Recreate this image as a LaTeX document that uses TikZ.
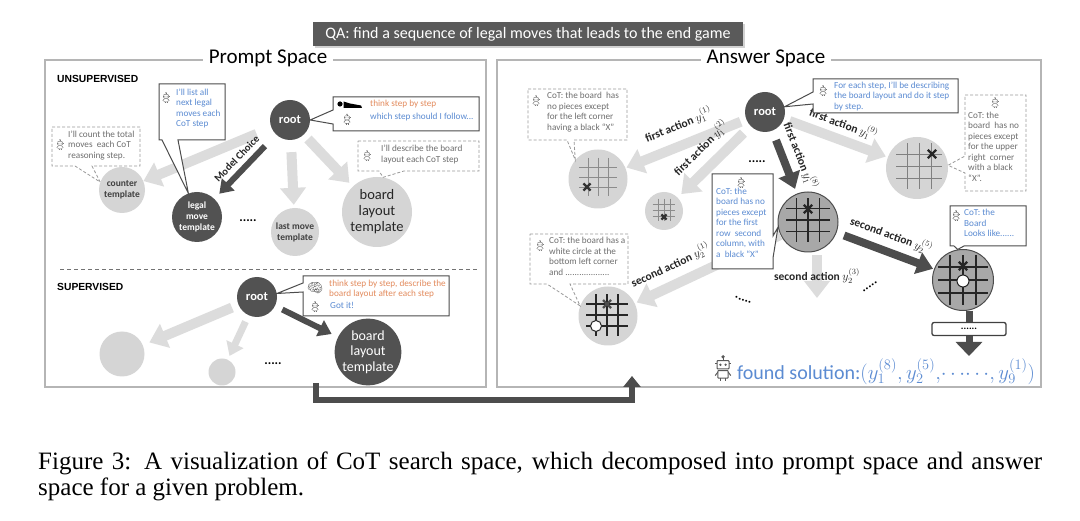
\documentclass[tikz,border=0pt]{standalone}
\usepackage{fontspec}
\setmainfont{Carlito}
\newfontfamily\capfont{Liberation Serif}
\newfontfamily\headfont{Liberation Sans}
\newfontfamily\emojifont{Noto Emoji}
\usetikzlibrary{arrows.meta,calc,shadows}
\definecolor{framegray}{HTML}{B5B5B5}
\definecolor{nodedark}{HTML}{525252}
\definecolor{nodelight}{HTML}{D5D5D5}
\definecolor{nodemid}{HTML}{A8A8A8}
\definecolor{arrlight}{HTML}{DCDCDC}
\definecolor{arrdark}{HTML}{4D4D4D}
\definecolor{bluetxt}{HTML}{5B8BD2}
\definecolor{orangetxt}{HTML}{E38B5D}
\definecolor{graytxt}{HTML}{6E6E6E}
\definecolor{bannergray}{HTML}{5A5A5A}
\tikzset{
 frame/.style={draw=framegray, line width=1.3pt},
 ttl/.style={fill=white, inner xsep=6pt, inner ysep=1pt, font=\fontsize{21}{23}\selectfont},
 dnode/.style={circle, fill=nodedark, text=white, align=center, inner sep=0pt, font=\fontsize{9.5}{11}\selectfont\bfseries},
 lnode/.style={circle, fill=nodelight, text=black!75, align=center, inner sep=0pt, font=\fontsize{9.5}{11}\selectfont\bfseries},
 bnode/.style={circle, fill=nodelight, inner sep=0pt},
 bmid/.style={circle, fill=nodemid, draw=black!70, line width=1pt, inner sep=0pt},
 rootfont/.style={font=\fontsize{12.5}{13}\selectfont\bfseries},
 larr/.style={draw=arrlight, line width=10pt, -{Triangle[width=25pt,length=17pt]}},
 darr/.style={draw=arrdark, line width=7pt, -{Triangle[width=19pt,length=14pt]}},
 conn/.style={draw=arrdark, line width=6pt, -{Triangle[width=17pt,length=11pt]}},
 solidcall/.style={draw=black!70, line width=1pt, fill=white, line join=miter},
 dashcall/.style={draw=black!40, dash pattern=on 3pt off 2pt, line width=0.8pt, fill=white},
 ctext/.style={anchor=north west, align=left, inner sep=0pt, font=\fontsize{9.2}{10.5}\selectfont},
 alabel/.style={font=\fontsize{11.5}{12}\selectfont\bfseries, text=black!85, sloped, inner sep=1pt},
 dotsl/.style={font=\fontsize{13}{13}\selectfont\bfseries, inner sep=0pt},
 gridpic/.pic={\draw (-1,-1.9)--(-1,1.9) (0,-1.9)--(0,1.9) (1,-1.9)--(1,1.9)
                     (-1.9,-1)--(1.9,-1) (-1.9,0)--(1.9,0) (-1.9,1)--(1.9,1);},
 xmark/.pic={\draw[line width=2.3pt] (-1,-1)--(1,1) (-1,1)--(1,-1);},
 robot/.pic={
   \draw (0,-4.2) -- (0,-5.6);
   \fill (0,-6.1) circle (0.9);
   \draw[rounded corners=0.8pt] (-3,-4.2) rectangle (3,0);
   \fill (-1.3,-2.1) circle (0.65) (1.3,-2.1) circle (0.65);
   \draw (-3,-2.6) -- (-3.8,-2.6) (3,-2.6) -- (3.8,-2.6);
   \draw[rounded corners=0.8pt] (-2.6,0.8) rectangle (2.6,4.6);
   \draw (-2.6,1.6) -- (-3.9,3.3) (2.6,1.6) -- (3.9,3.3);
   \draw (-1.2,4.6) -- (-1.2,6.2) (1.2,4.6) -- (1.2,6.2);
 },
}
\begin{document}
\begin{tikzpicture}[x=1pt,y=-1pt]
\useasboundingbox[fill=white] (0,0) rectangle (1080,521);

% ---------- frames and titles ----------
\draw[frame] (45,60) rectangle (486,387);
\draw[frame] (497,60) rectangle (1041,387);
\node[ttl] (tp) at (268,58) {Prompt Space};
\node[ttl] (ta) at (766,58) {Answer Space};
\node[fill=bannergray, text=white, minimum width=430pt, minimum height=24pt, inner sep=0pt,
      font=\fontsize{16}{18}\selectfont,
      drop shadow={shadow xshift=2pt, shadow yshift=-2pt, opacity=0.35}] (qa) at (528,34)
      {QA: find a sequence of legal moves that leads to the end game};

% ---------- prompt space : unsupervised ----------
\node[anchor=west, inner sep=0pt, font=\headfont\fontsize{10.3}{11}\selectfont\bfseries] (uns) at (57,79) {UNSUPERVISED};
\node[dnode, minimum size=40pt, rootfont] (proot) at (290,120) {root};
\node[lnode, minimum size=46pt] (pcounter) at (122,190) {counter\\template};
\node[dnode, minimum size=50pt] (plegal) at (197,217) {legal\\move\\template};
\node[lnode, minimum size=48pt] (plast) at (295,232) {last move\\template};
\node[lnode, minimum size=70pt, font=\fontsize{14.5}{16}\selectfont, text=black!85] (pboard) at (377,212) {board\\layout\\template};

\draw[larr, shorten <=16pt] (proot) -- (pcounter);
\draw[larr, shorten <=12pt, shorten >=3pt] (proot) -- (plast);
\draw[larr, shorten <=6pt, shorten >=5pt] (proot) -- (pboard);
\draw[darr, line width=6pt, -{Triangle[width=17pt,length=13pt]}, shorten <=16pt, shorten >=7pt] (proot) --
   node[alabel, above=4pt, font=\fontsize{10.5}{11}\selectfont\bfseries] (mc) {Model Choice} (plegal);
\node[dotsl] (pdots) at (248,221) {.....};

% callout of root
\draw[solidcall] (333,97) -- (479,97) -- (479,131) -- (333,131) -- (333,124) -- (proot.east) -- (333,110) -- cycle;
\fill[black] (340,104) circle (2.6);
\fill[black] (343.5,101.5) -- (350,103.5) -- (361,105.5) -- (362,108) -- (343.5,108) -- cycle;
\pic[black!55, scale=0.85] at (347,119.5) {robot};
\node[ctext, text=orangetxt] (t1) at (370,100) {think step by step};
\node[ctext, text=bluetxt] (t2) at (370,113) {which step should I follow...};

% callout of legal move
\draw[solidcall] (159,84) -- (225,84) -- (225,140) -- (178,140) -- (plegal.110) -- (162,140) -- (159,140) -- cycle;
\pic[black!55, scale=0.85] at (166,98) {robot};
\node[ctext, text=bluetxt] (t3) at (176,88.5) {I'll list all\\next legal\\moves each\\CoT step};

% callout of counter
\draw[dashcall] (52,127) -- (140,127) -- (140,166) -- (92,166) -- (pcounter.160) -- (75,166) -- (52,166) -- cycle;
\pic[black!50, scale=0.85] at (60,145) {robot};
\node[ctext, text=graytxt] (t4) at (68,130.5) {I'll count the total\\moves \ each CoT\\reasoning step.};

% callout of board layout
\draw[dashcall] (358,141) -- (479,141) -- (479,171) -- (404,171) -- (pboard.80) -- (379,171) -- (358,171) -- cycle;
\pic[black!50, scale=0.85] at (367,156) {robot};
\node[ctext, text=graytxt] (t5) at (381,145) {I'll describe the board\\layout each CoT step};

% ---------- prompt space : supervised ----------
\draw[black!55, line width=0.8pt, dash pattern=on 4pt off 3pt] (60,269) -- (478,269);
\node[anchor=west, inner sep=0pt, font=\headfont\fontsize{10.3}{11}\selectfont\bfseries] (sup) at (57,287) {SUPERVISED};
\node[dnode, minimum size=40pt, rootfont] (sroot) at (257,297) {root};
\node[circle, fill=nodelight, minimum size=45pt, inner sep=0pt] (sc1) at (122,354) {};
\node[circle, fill=nodelight, minimum size=27pt, inner sep=0pt] (sc2) at (222,372) {};
\node[dnode, minimum size=62pt, font=\fontsize{14}{15.5}\selectfont] (sboard) at (368,352) {board\\layout\\template};
\draw[larr, shorten <=7pt, shorten >=7pt] (sroot) -- (sc1);
\draw[larr, line width=7pt, -{Triangle[width=18pt,length=13pt]}, shorten <=7pt, shorten >=4pt] (sroot) -- (sc2);
\draw[darr, line width=6pt, -{Triangle[width=17pt,length=13pt]}, shorten <=8pt, shorten >=7pt] (sroot) -- (sboard);
\node[dotsl] (sdots) at (273,364) {.....};

\draw[solidcall] (303,276) -- (449,276) -- (449,316) -- (303,316) -- (303,292) -- (sroot.10) -- (303,283) -- cycle;
\node[font=\emojifont\fontsize{13}{13}\selectfont, text=black!60, inner sep=0pt] (brain) at (315,288) {🧠};
\pic[black!55, scale=0.85] at (315,307) {robot};
\node[ctext, text=orangetxt] (t6) at (329,279.5) {think step by step, describe the\\board layout after each step};
\node[ctext, text=bluetxt] (t7) at (330,302) {Got it!};

% connector between the spaces
\coordinate (lstart) at (316,383);
\coordinate (cornerR) at (632,400);
\coordinate (rend) at (632,376);
\draw[conn] (lstart) |- (cornerR) -- (rend);

% ---------- answer space ----------
\node[dnode, minimum size=40pt, rootfont] (aroot) at (765,112) {root};
\node[bnode, minimum size=59pt] (bA) at (598,179) {};
\node[bnode, minimum size=38pt] (bB) at (664,211) {};
\node[bnode, minimum size=62pt] (bC) at (917,168) {};
\node[bmid, minimum size=60pt] (bD) at (808,222) {};
\node[bmid, minimum size=61pt] (bE) at (963,280) {};
\node[bnode, minimum size=59pt] (bF) at (608,316) {};

\draw[larr, shorten <=6pt, shorten >=1pt] (aroot) -- node[alabel, above=7pt] (l1) {first action $y_1^{(1)}$} (bA);
\draw[larr, shorten <=10pt, shorten >=5pt] (aroot) -- node[alabel, above=6pt] (l2) {first action $y_1^{(2)}$} (bB);
\draw[larr, shorten <=6pt, shorten >=2pt] (aroot) -- node[alabel, above=3pt, pos=0.52] (l9) {first action $y_1^{(9)}$} (bC);
\draw[darr, line width=8pt, -{Triangle[width=22pt,length=16pt]}, shorten <=10pt, shorten >=5pt] (aroot) --
   node[alabel, above=5pt] (l8) {first action $y_1^{(8)}$} (bD);
\draw[darr, line width=8pt, -{Triangle[width=22pt,length=16pt]}, shorten <=8pt, shorten >=1pt] (bD) --
   node[alabel, above=5pt] (l25) {second action $y_2^{(5)}$} (bE);
\coordinate (d3e) at (817,298);
\draw[larr] ([xshift=9pt,yshift=-3pt]bD.south) -- (d3e);
\node[font=\fontsize{11.5}{12}\selectfont\bfseries, text=black!85] (l23) at (817,276) {second action $y_2^{(3)}$};
\draw[larr, shorten >=2pt] (bD) -- node[alabel, pos=0.7, above=6pt] (l21) {second action $y_2^{(1)}$} (bF);

\node[dotsl] (adots1) at (757,162) {.....};
\node[dotsl, rotate=-20] (adots2) at (743,300) {.....};
\node[dotsl, rotate=35] (adots3) at (870,287) {.....};

% boards
\pic[black!45, line width=0.9pt, scale=10] at (598,177) {gridpic};
\pic[black!80, scale=3.6] at (587,187) {xmark};
\pic[black!45, line width=0.8pt, scale=6] at (664,210) {gridpic};
\pic[black!80, scale=2.6] at (664,217) {xmark};
\pic[black!50, line width=0.9pt, scale=12] at (919,166) {gridpic};
\pic[black!85, scale=4.2] at (932,154) {xmark};
\pic[black!85, line width=1.2pt, scale=11.5] at (808,220) {gridpic};
\pic[black!85, scale=4.2] at (808,209) {xmark};
\pic[black!85, line width=1.2pt, scale=13] at (963,280) {gridpic};
\pic[black!85, scale=4.2] at (963,266) {xmark};
\node[circle, draw=black!85, line width=1pt, fill=white, minimum size=12pt, inner sep=0pt] (wE) at (963,281) {};
\pic[black!85, line width=1.2pt, scale=11] at (607,315) {gridpic};
\pic[black!70, scale=4] at (607,304) {xmark};
\node[circle, draw=black!85, line width=1pt, fill=white, minimum size=11pt, inner sep=0pt] (wF) at (596,326) {};

% callouts in answer space
\draw[solidcall] (813,79) -- (958,79) -- (958,113) -- (813,113) -- (813,104) -- (aroot.15) -- (813,92) -- cycle;
\pic[black!55, scale=0.85] at (823,91) {robot};
\node[ctext, text=bluetxt] (t8) at (834,81.5) {For each step, I'll be describing\\the board layout and do it step\\by step.};

\draw[dashcall] (528,89) -- (627,89) -- (627,140) -- (574,140) -- (bA.140) -- (567,140) -- (528,140) -- cycle;
\pic[black!50, scale=0.85] at (536,101) {robot};
\node[ctext, text=graytxt] (t9) at (547,92) {CoT: the board \ has\\no pieces except\\for the left corner\\having a black “X”};

\draw[dashcall] (965,95) -- (1026,95) -- (1026,191) -- (965,191) -- (965,173) -- (bC.5) -- (965,156) -- cycle;
\pic[black!50, scale=0.85] at (995,103) {robot};
\node[ctext, text=graytxt] (t10) at (968,111.5) {CoT: the\\board \ has no\\pieces except\\for the upper\\right \ corner\\with a black\\“X”.};

\draw[solidcall] (712,174) -- (773,174) -- (773,236) -- (bD.190) -- (773,258) -- (773,269) -- (712,269) -- cycle;
\pic[black!55, scale=0.85] at (741,183) {robot};
\node[ctext, text=bluetxt] (t11) at (716,187.5) {CoT: the\\board has no\\pieces except\\for the first\\row \ second\\column, with\\a \ black “X”};

\draw[solidcall] (950,206) -- (1026,206) -- (1026,246) -- (964,246) -- (bE.100) -- (954,246) -- (950,246) -- cycle;
\pic[black!55, scale=0.85] at (956,216) {robot};
\node[ctext, text=bluetxt] (t12) at (964,209) {CoT: the\\Board\\Looks like......};

\draw[dashcall] (530,234) -- (628,234) -- (628,284) -- (570,284) -- (bF.160) -- (547,284) -- (530,284) -- cycle;
\pic[black!50, scale=0.85] at (540,246) {robot};
\node[ctext, text=graytxt] (t13) at (549,237) {CoT: the board has a\\white circle at the\\bottom left corner\\and ...................};

% final chain
\node[draw=black!75, line width=1.3pt, fill=white, rounded corners=2pt, minimum width=74pt, minimum height=13pt,
      inner sep=0pt, font=\fontsize{10}{10}\selectfont\bfseries] (ebox) at (969,329) {......};
\draw[draw=arrdark, line width=7pt] (ebox.north |- bE.south) -- (ebox.north);
\coordinate (efin) at (969,356);
\draw[darr, line width=7pt, -{Triangle[width=26pt,length=14pt]}] (ebox.south) -- (efin);

\pic[black!65, line width=1pt, scale=2] at (723,369) {robot};
\node[anchor=base west, inner sep=0pt, text=bluetxt, font=\fontsize{20}{22}\selectfont] (sol) at (737,380)
   {found solution:$(y_1^{(8)}, y_2^{(5)},\!\cdots\!\cdots\!, y_9^{(1)})$};

% ---------- caption ----------
\node[anchor=base west, inner sep=0pt, font=\capfont\fontsize{25}{27}\selectfont] (cap1) at (38,470)
   {\makebox[1004pt][s]{Figure 3: A visualization of CoT search space, which decomposed into prompt space and answer}};
\node[anchor=base west, inner sep=0pt, font=\capfont\fontsize{25}{27}\selectfont] (cap2) at (38,496)
   {space for a given problem.};
\end{tikzpicture}
\end{document}
